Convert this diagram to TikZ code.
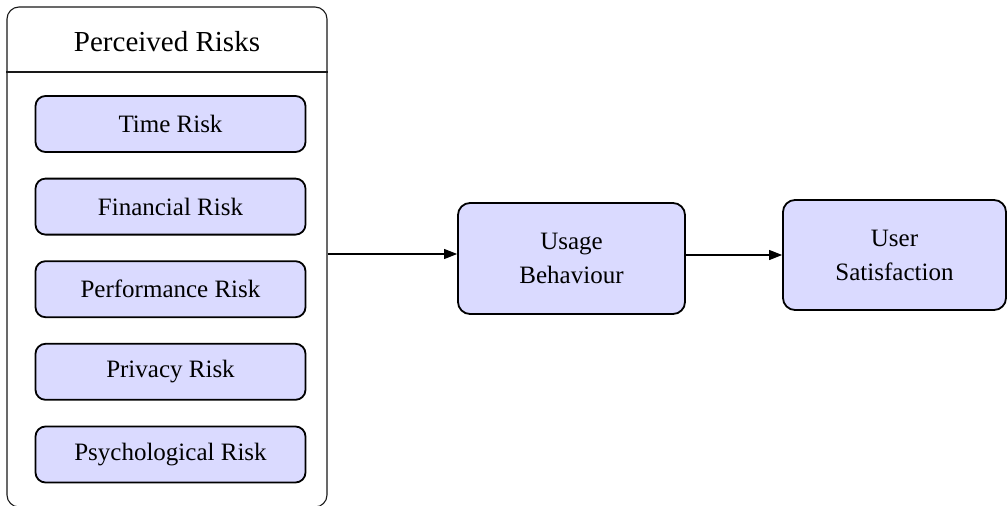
\documentclass[tikz,border=0pt]{standalone}
\usepackage{fontspec}
\setmainfont{Liberation Serif}
\usetikzlibrary{arrows.meta}
\definecolor{boxfill}{RGB}{218,218,255}
\tikzset{
  riskbox/.style={draw=black, line width=1.8pt, fill=boxfill, rounded corners=10pt,
    minimum width=270pt, minimum height=56pt, inner sep=0pt,
    font=\fontsize{25}{30}\selectfont},
  bigbox/.style={draw=black, line width=1.8pt, fill=boxfill, rounded corners=12pt,
    inner sep=0pt, align=center, font=\fontsize{25}{34}\selectfont},
  link/.style={line width=1.1pt, -{Triangle[length=13pt,width=10pt]}}
}
\begin{document}
\begin{tikzpicture}[x=1pt,y=-1pt]
  \useasboundingbox (0,0) rectangle (1007,506);
  % group container with its header
  \node[draw=black!90, line width=1.1pt, rounded corners=12pt, minimum width=320pt,
        minimum height=500pt, inner sep=0pt] (risks) at (167,257) {};
  \node[font=\fontsize{29}{34}\selectfont] (title) at (167,42) {Perceived Risks};
  \coordinate (hdr) at (167,72);
  \draw[line width=1.1pt, black!90] (risks.west |- hdr) -- (risks.east |- hdr);
  % risk factors
  \node[riskbox] (time) at (170.5,124) {Time Risk};
  \node[riskbox] (fin)  at (170.5,206.6) {Financial Risk};
  \node[riskbox] (perf) at (170.5,289.2) {Performance Risk};
  \node[riskbox] (priv) at (170.5,371.8) {Privacy Risk};
  \node[riskbox] (psy)  at (170.5,454.5) {Psychological Risk};
  % outcome constructs
  \node[bigbox, minimum width=227pt, minimum height=111pt] (usage) at (571.5,258.5)
       {Usage\\Behaviour};
  \node[bigbox, minimum width=223pt, minimum height=110pt] (user) at (894.5,255)
       {User\\Satisfaction};
  % paths
  \coordinate (a1) at (327,254);
  \draw[link] (risks.east |- a1) -- (usage.west |- a1);
  \draw[link] (usage.east |- user.west) -- (user.west);
\end{tikzpicture}
\end{document}
